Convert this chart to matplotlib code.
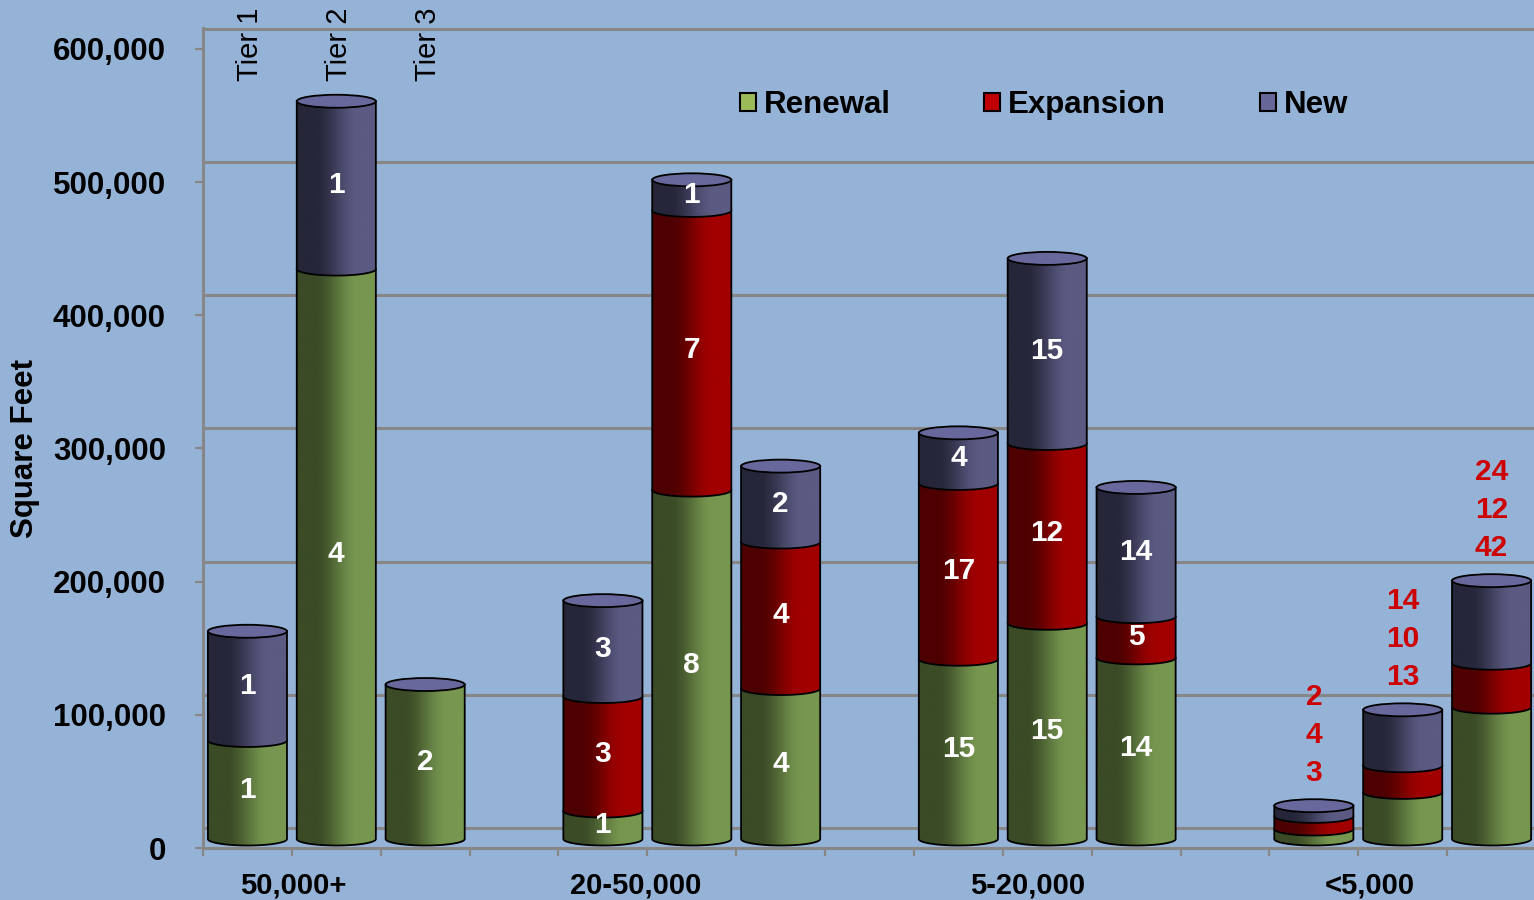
import matplotlib
matplotlib.use("Agg")
import numpy as np
import matplotlib.pyplot as plt
from matplotlib import transforms
from matplotlib.path import Path
from matplotlib.patches import PathPatch, Ellipse, Patch

# ---------------------------------------------------------------- data
groups = ["50,000+", "20-50,000", "5-20,000", "<5,000"]
tiers = ["Tier 1", "Tier 2", "Tier 3"]
series = ["Renewal", "Expansion", "New"]

# square feet per bar (tiers 1-3 inside each size group)
renewal_sf = [74000, 428000, 116000,
              21000, 262000, 113000,
              135000, 162000, 136000,
              7500, 35000, 99000]
expansion_sf = [0, 0, 0,
                86000, 210000, 110000,
                132000, 135000, 31000,
                9500, 20000, 33000]
new_sf = [82000, 126000, 0,
          72000, 23000, 57000,
          38000, 139000, 97000,
          8000, 42000, 62000]

# number of transactions in each segment
renewal_n = [1, 4, 2, 1, 8, 4, 15, 15, 14, 3, 13, 42]
expansion_n = [0, 0, 0, 3, 7, 4, 17, 12, 5, 4, 10, 12]
new_n = [1, 1, 0, 3, 1, 2, 4, 15, 14, 2, 14, 24]

y_ticks = [0, 100000, 200000, 300000, 400000, 500000, 600000]

# ---------------------------------------------------------------- style
W, H, DPI = 1534, 900, 100
BG = "#95B3D7"
GRID = "#878787"
LEGEND_COLORS = ["#9BBB59", "#C00000", "#666699"]
GRADIENTS = [((58, 75, 38), (119, 151, 80)),     # renewal
             ((78, 0, 0), (162, 0, 0)),          # expansion
             ((38, 38, 58), (90, 90, 130))]      # new
TOP_COLOR = "#68689C"
NOTE_RED = "#CC0000"

plt.rcParams["font.family"] = ["Liberation Sans", "DejaVu Sans"]

fig = plt.figure(figsize=(W / DPI, H / DPI), dpi=DPI)
fig.patch.set_facecolor(BG)

# axes frame in pixel geometry: floor edge at 848 px, wall top at 28 px
left_px, right_px, bottom_px, top_px = 203, 1536, 848, 28
ax = fig.add_axes([left_px / W, (H - bottom_px) / H,
                   (right_px - left_px) / W, (bottom_px - top_px) / H])
ax.set_facecolor("none")
n_slots = 15
ymax = 600000 * (bottom_px - top_px) / (bottom_px - 49)
ax.set_xlim(0, n_slots)
ax.set_ylim(0, ymax)
ax.set_autoscale_on(False)

px_per_unit = (bottom_px - top_px) / ymax

# back wall gridlines sit higher than the front axis (3-D depth)
grid_tr = transforms.offset_copy(ax.transData, fig=fig, x=0, y=20, units="dots")
bar_tr = transforms.offset_copy(ax.transData, fig=fig, x=0, y=9, units="dots")

for v in y_ticks:
    ax.plot([0, n_slots], [v, v], transform=grid_tr, color=GRID, lw=2.2,
            zorder=0.5, clip_on=False, solid_capstyle="butt")

# spines & ticks
for s in ("top", "right"):
    ax.spines[s].set_visible(False)
for s in ("left", "bottom"):
    ax.spines[s].set_color(GRID)
    ax.spines[s].set_linewidth(2.2)

ax.set_yticks(y_ticks)
ax.set_yticklabels([f"{v:,}" for v in y_ticks])
ax.set_xticks(range(n_slots + 1))
ax.set_xticklabels([])
ax.tick_params(axis="y", length=5.8, width=1.6, color=GRID, pad=21,
               labelsize=22.5)
ax.tick_params(axis="x", length=5.8, width=1.6, color=GRID)
for lab in ax.get_yticklabels():
    lab.set_fontweight("bold")


def gradient_image(dark, light):
    t = np.linspace(0, 1, 256)
    f = np.clip((t - 0.22) / 0.55, 0, 1)
    f = f * f * (3 - 2 * f)
    d = np.array(dark) / 255.0
    l = np.array(light) / 255.0
    return (d[None, :] * (1 - f[:, None]) + l[None, :] * f[:, None])[None, :, :]


GRAD_IMGS = [gradient_image(*g) for g in GRADIENTS]

bar_frac = 0.89
hw = bar_frac / 2
ry = 6.5 / px_per_unit


def cylinder_segment(xc, y0, y1, img, z):
    theta = np.linspace(np.pi, 2 * np.pi, 80)
    arc = list(zip(xc + hw * np.cos(theta), y0 + ry * np.sin(theta)))
    verts = [(xc - hw, y1)] + arc + [(xc + hw, y1), (xc - hw, y1)]
    codes = [Path.MOVETO] + [Path.LINETO] * (len(verts) - 2) + [Path.CLOSEPOLY]
    patch = PathPatch(Path(verts, codes), facecolor="none", edgecolor="black",
                      lw=1.3, transform=bar_tr, zorder=z + 0.1)
    ax.add_patch(patch)
    im = ax.imshow(img, extent=(xc - hw, xc + hw, y0 - ry, y1), aspect="auto",
                   transform=bar_tr, zorder=z, interpolation="bilinear")
    im.set_clip_path(patch)


slot_of_bar = [g * 4 + t for g in range(len(groups)) for t in range(len(tiers))]
sf_series = [renewal_sf, expansion_sf, new_sf]
n_series = [renewal_n, expansion_n, new_n]

for i, slot in enumerate(slot_of_bar):
    xc = slot + 0.5
    base = 0.0
    z = 2.0
    for k in range(3):
        val = sf_series[k][i]
        if val <= 0:
            continue
        cylinder_segment(xc, base, base + val, GRAD_IMGS[k], z)
        count = n_series[k][i]
        if i < 9 and count > 0:
            ax.text(xc, base + val / 2, str(count), transform=bar_tr,
                    ha="center", va="center", color="white",
                    fontsize=21.5, fontweight="bold", zorder=20)
        base += val
        z += 1.0
    ax.add_patch(Ellipse((xc, base), 2 * hw, 2 * ry, transform=bar_tr,
                         facecolor=TOP_COLOR, edgecolor="black", lw=1.3,
                         zorder=z + 0.5))
    # counts for the smallest size group are listed above the bars
    if i >= 9:
        lines = [new_n[i], expansion_n[i], renewal_n[i]]
        for j, c in enumerate(reversed(lines)):
            off_px = 33 + 38 * j
            ax.annotate(str(c), xy=(xc, base), xycoords=bar_tr,
                        xytext=(0, off_px * 72 / DPI), textcoords="offset points",
                        ha="center", va="center", color=NOTE_RED,
                        fontsize=21.5, fontweight="bold", zorder=20,
                        annotation_clip=False)

# tier labels above the first group
top_tr = transforms.blended_transform_factory(ax.transData, ax.transAxes)
for t, name in enumerate(tiers):
    ax.text(t + 0.53, (bottom_px - 81) / (bottom_px - top_px), name,
            transform=top_tr, rotation=90, ha="center", va="bottom",
            fontsize=21, zorder=20, clip_on=False)

# size-group labels under the floor
grp_tr = transforms.blended_transform_factory(ax.transData, fig.transFigure)
group_label_x = [1.01, 4.87, 9.28, 13.13]
for gx, name in zip(group_label_x, groups):
    ax.text(gx, 1 - 885 / H, name, transform=grp_tr, ha="center", va="center",
            fontsize=21, fontweight="bold", clip_on=False)

fig.text(25 / W, 1 - 449 / H, "Square Feet", rotation=90, ha="center",
         va="center", fontsize=22.5, fontweight="bold")

handles = [Patch(facecolor=c, edgecolor="black", lw=1.5, label=s)
           for c, s in zip(LEGEND_COLORS, series)]
ax.legend(handles=handles, loc="center", bbox_to_anchor=(1044 / W, 1 - 105 / H),
          bbox_transform=fig.transFigure, ncol=3, frameon=False,
          prop={"weight": "bold", "size": 22.5}, handlelength=0.5,
          handleheight=0.5, handletextpad=0.26, columnspacing=3.0,
          borderaxespad=0, borderpad=0)

fig.savefig("out.png", dpi=DPI, facecolor=BG)
